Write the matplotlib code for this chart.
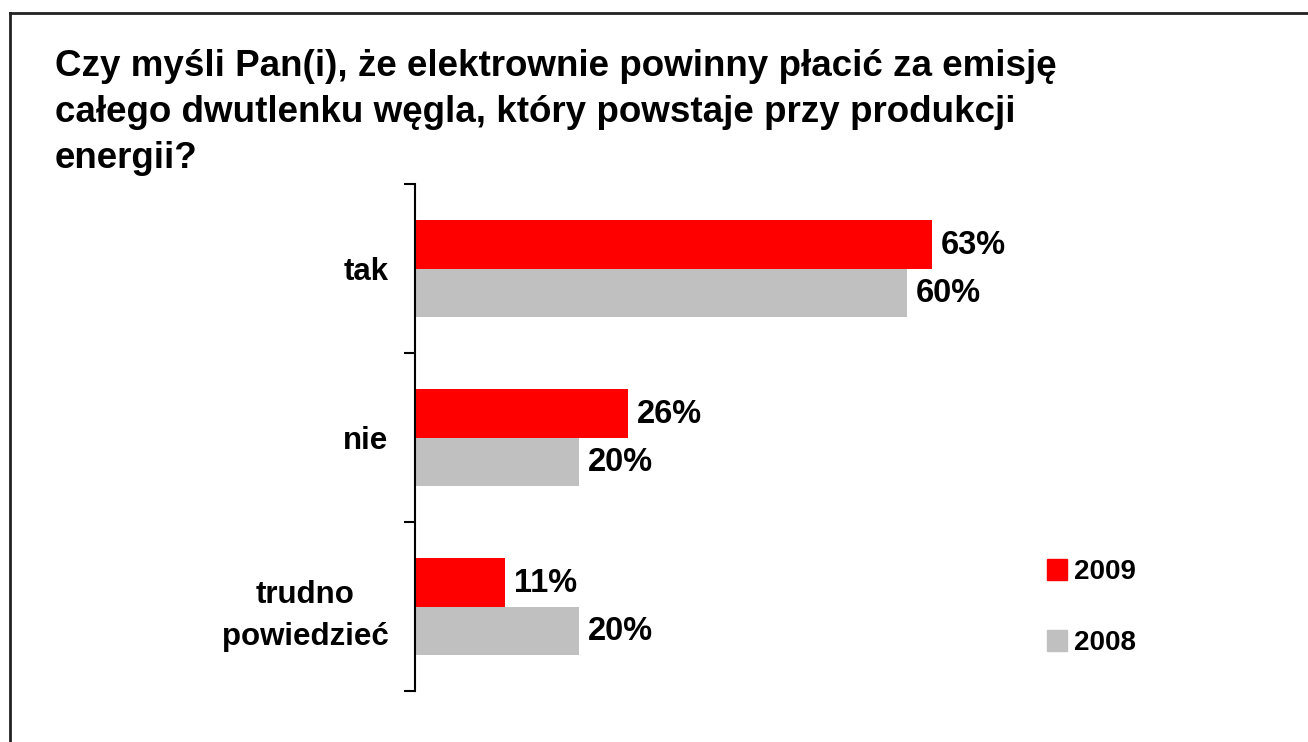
import numpy as np
import matplotlib.pyplot as plt
from matplotlib.lines import Line2D
from matplotlib.patches import Patch

plt.rcParams["font.family"] = ["Liberation Sans", "DejaVu Sans"]
plt.rcParams["font.weight"] = "bold"

TITLE = ("Czy myśli Pan(i), że elektrownie powinny płacić za emisję\n"
         "całego dwutlenku węgla, który powstaje przy produkcji\n"
         "energii?")
CATEGORIES = ["tak", "nie", "trudno\npowiedzieć"]
YEARS = ["2009", "2008"]
VALUES_2009 = [63, 26, 11]
VALUES_2008 = [60, 20, 20]
COLORS = ["#FF0000", "#C0C0C0"]

W, H = 1308, 742
fig = plt.figure(figsize=(W / 100, H / 100), dpi=100)

# axes placed in pixel terms of the original
left, right, top, bottom = 415, 1235, 184, 691
ax = fig.add_axes([left / W, 1 - bottom / H, (right - left) / W, (bottom - top) / H])

y = np.arange(len(CATEGORIES))
h = 0.285

bars09 = ax.barh(y - h / 2, VALUES_2009, height=h, color=COLORS[0], label=YEARS[0])
bars08 = ax.barh(y + h / 2, VALUES_2008, height=h, color=COLORS[1], label=YEARS[1])

for bars, vals in [(bars09, VALUES_2009), (bars08, VALUES_2008)]:
    for b, v in zip(bars, vals):
        ax.annotate(f"{v}%", (b.get_width(), b.get_y() + b.get_height() / 2),
                    xytext=(6.5, -1), textcoords="offset points",
                    ha="left", va="center", fontsize=23.5, fontweight="bold")

ax.set_xlim(0, 100)
ax.set_ylim(len(CATEGORIES) - 0.5, -0.5)

ax.set_yticks(np.arange(len(CATEGORIES) + 1) - 0.5)
ax.set_yticklabels([])
ax.tick_params(axis="y", which="major", direction="out", length=8, width=1.5)
ax.set_yticks(y, minor=True)
ax.set_yticklabels(CATEGORIES, minor=True, fontsize=22.5, fontweight="bold",
                   multialignment="center", linespacing=1.5)
ax.tick_params(axis="y", which="minor", length=0, pad=19)

ax.set_xticks([])
for s in ["top", "right", "bottom"]:
    ax.spines[s].set_visible(False)
ax.spines["left"].set_linewidth(1.5)

handles = [Patch(color=COLORS[0]), Patch(color=COLORS[1])]
fig.legend(handles, YEARS, loc="upper left",
           bbox_to_anchor=(1022 / W, 1 - 534 / H), frameon=False,
           handlelength=0.72, handleheight=0.78,
           handletextpad=0.25, labelspacing=1.63,
           prop={"weight": "bold", "size": 20})

fig.text(55 / W, 1 - 49 / H, TITLE, ha="left", va="top",
         fontsize=26.5, fontweight="bold", linespacing=1.4)

# frame lines of the original slide
fig.add_artist(Line2D([9.5 / W, 9.5 / W], [0, 1 - 13 / H], color="#222222", lw=2))
fig.add_artist(Line2D([9.5 / W, 1], [1 - 13 / H, 1 - 13 / H], color="#222222", lw=2))

fig.savefig("out.png", dpi=100)
